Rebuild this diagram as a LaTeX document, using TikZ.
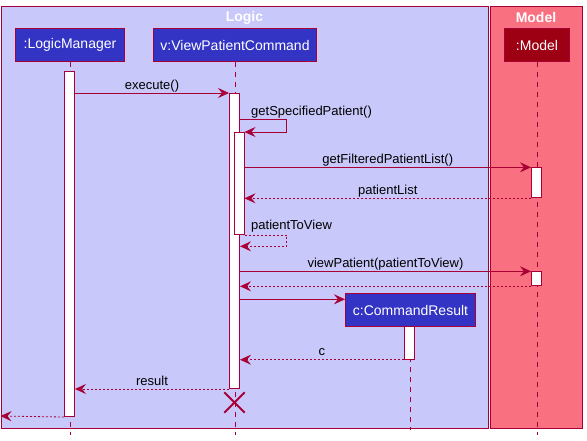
\documentclass[tikz,border=0pt]{standalone}
\usepackage{fontspec}
\setmainfont{Liberation Sans}
\usetikzlibrary{arrows.meta}
\definecolor{bd}{RGB}{168,0,54}
\definecolor{pblue}{RGB}{51,51,196}
\definecolor{lbg}{RGB}{200,200,250}
\definecolor{mbg}{RGB}{249,113,129}
\definecolor{mred}{RGB}{157,0,18}
\tikzset{
  part/.style={draw=bd, fill=pblue, text=white, font=\fontsize{14}{16}\selectfont, minimum height=33pt, inner sep=0pt, line width=1pt, anchor=north west},
  act/.style={draw=bd, fill=white, minimum width=10pt, inner sep=0pt, line width=1pt, anchor=north},
  msg/.style={draw=bd, line width=0.8pt, -{Stealth[length=11pt,width=10pt,inset=4pt]}},
  ret/.style={msg, dash pattern=on 2pt off 2pt},
  life/.style={draw=bd, dash pattern=on 5pt off 5pt, line width=0.8pt},
  lbl/.style={font=\fontsize{13}{15}\selectfont, text=black, inner sep=0pt, anchor=base, yshift=4pt},
  lbll/.style={font=\fontsize{13}{15}\selectfont, text=black, inner sep=0pt, anchor=base west},
  boxtitle/.style={font=\fontsize{14}{16}\selectfont\bfseries, text=white, inner sep=0pt},
}
\begin{document}
\begin{tikzpicture}[x=1pt,y=-1pt]
\useasboundingbox (0,0) rectangle (587,440);
% group boxes
\draw[bd, fill=lbg, line width=1pt] (1.5,6.5) rectangle (488,428);
\draw[bd, fill=mbg, line width=1pt] (490.5,6.5) rectangle (582,428);
\node[boxtitle] (tLogic) at (244.5,17.5) {Logic};
\node[boxtitle] (tModel) at (536,17) {Model};
% participants
\node[part, minimum width=109pt] (lm) at (15,28) {:LogicManager};
\node[part, minimum width=163pt] (vpc) at (153,28) {v:ViewPatientCommand};
\node[part, minimum width=65pt, fill=mred] (md) at (504,28) {:Model};
\node[part, minimum width=130pt] (cr) at (345,293) {c:CommandResult};
% lifeline ends
\coordinate (lmE) at (lm.south |- 0,435);
\coordinate (vpcE) at (vpc.south |- 0,435);
\coordinate (mdE) at (md.south |- 0,435);
\coordinate (crE) at (cr.south |- 0,430);
\draw[life] (lm.south) -- (lmE);
\draw[life] (vpc.south) -- (vpcE);
\draw[life] (md.south) -- (mdE);
\draw[life] (cr.south) -- (crE);
% activations
\node[act, minimum height=345pt] (a1) at (69.5,71) {};
\node[act, minimum height=295pt] (a2) at (234.5,93) {};
\node[act, minimum height=102pt] (a3) at (239,132) {};
\node[act, minimum height=30pt] (m1) at (536.5,167.3) {};
\node[act, minimum height=14pt] (m2) at (536.5,271.3) {};
\node[act, minimum height=33pt] (c1) at (409.3,325.7) {};
% messages
\draw[msg] (a1.east |- a2.north) -- node[lbl] {execute()} (a2.north west);
\coordinate (s1) at (286.7,119);
\draw[msg] (a2.east |- s1) -- (s1) |- (a3.north east);
\node[lbll] (lbl1) at (251,115) {getSpecifiedPatient()};
\draw[msg] (a3.east |- m1.north) -- node[lbl] {getFilteredPatientList()} (m1.north west);
\draw[ret] (m1.south west) -- node[lbl] {patientList} (a3.east |- m1.south);
\coordinate (s2) at (286.7,246.3);
\draw[ret] (a3.south east) -| (s2) -- (a2.east |- s2);
\node[lbll] (lbl2) at (251,229) {patientToView};
\draw[msg] (a2.east |- m2.north) -- node[lbl] {viewPatient(patientToView)} (m2.north west);
\draw[ret] (m2.south west) -- (a2.east |- m2.south);
\coordinate (cy) at (0,299.3);
\draw[msg] (a2.east |- cy) -- (cr.west |- cy);
\draw[ret] (c1.south west) -- node[lbl] {c} (a2.east |- c1.south);
\draw[ret] (a2.south west) -- node[lbl] {result} (a1.east |- a2.south);
\coordinate (out) at (0.5,416);
\draw[ret] (a1.south west) -- (out);
% destroy
\node[inner sep=0pt, minimum size=20pt] (x) at (234.5,402.5) {};
\draw[bd, line width=2pt] (x.north west) -- (x.south east) (x.north east) -- (x.south west);
\end{tikzpicture}
\end{document}
